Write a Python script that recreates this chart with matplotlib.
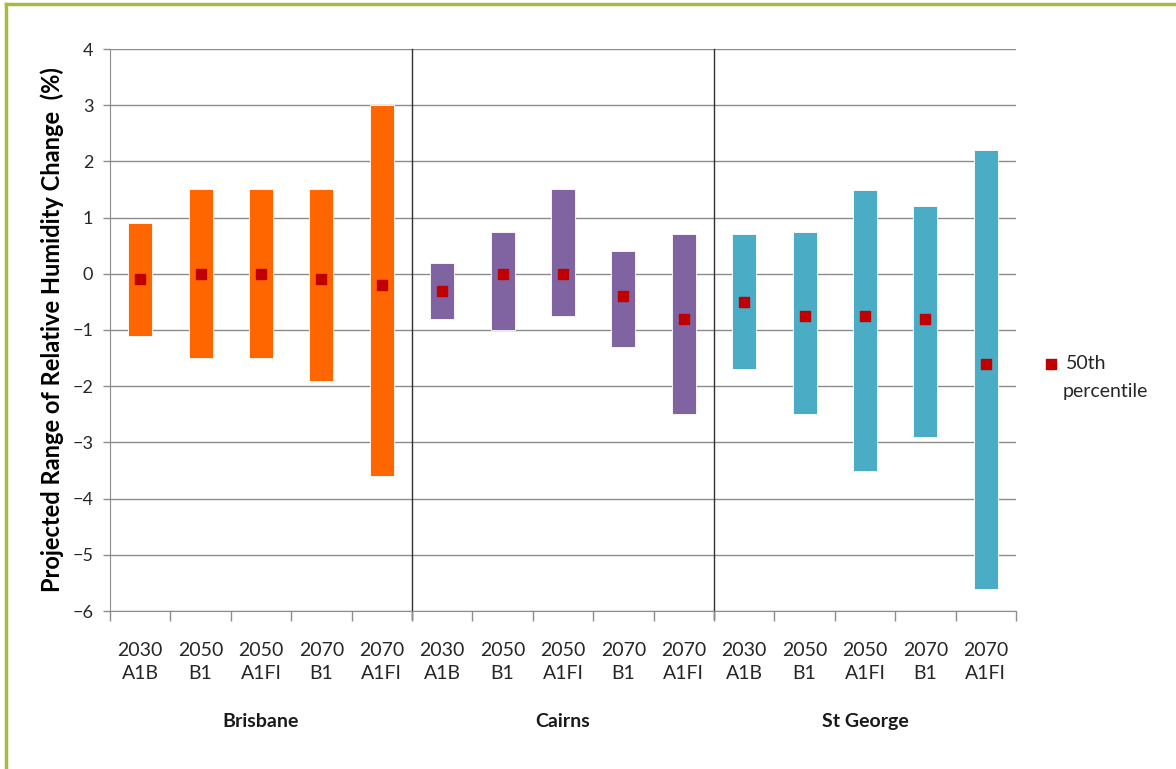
import matplotlib.pyplot as plt
from matplotlib.lines import Line2D
from matplotlib.transforms import blended_transform_factory

plt.rcParams['font.family'] = ['Lato', 'DejaVu Sans']

# Projected relative humidity change (%) per location and scenario
locations = ["Brisbane", "Cairns", "St George"]
scenarios = ["2030\nA1B", "2050\nB1", "2050\nA1FI", "2070\nB1", "2070\nA1FI"]
colors = ["#ff6600", "#8064a2", "#4bacc6"]

upper = [0.9, 1.5, 1.5, 1.5, 3.0,
         0.2, 0.75, 1.5, 0.4, 0.7,
         0.7, 0.75, 1.5, 1.2, 2.2]
lower = [-1.1, -1.5, -1.5, -1.9, -3.6,
         -0.8, -1.0, -0.75, -1.3, -2.5,
         -1.7, -2.5, -3.5, -2.9, -5.6]
median = [-0.1, 0.0, 0.0, -0.1, -0.2,
          -0.3, 0.0, 0.0, -0.4, -0.8,
          -0.5, -0.75, -0.75, -0.8, -1.6]

n = len(scenarios)
x = list(range(n * len(locations)))
bar_colors = [c for c in colors for _ in range(n)]

fig = plt.figure(figsize=(11.76, 7.69), dpi=100)
ax = fig.add_axes([110 / 1176, 1 - 611 / 769, 906 / 1176, 562 / 769])

grid_c = "#8c8c8c"
for v in range(-6, 5):
    ax.axhline(v, color=grid_c, lw=1, zorder=0)

heights = [u - l for u, l in zip(upper, lower)]
ax.bar(x, heights, bottom=lower, width=0.4, color=bar_colors,
       edgecolor="white", linewidth=0.6, zorder=2)
pts = ax.scatter(x, median, marker="s", s=62, color="#c00000", zorder=3,
                 label="50th")

# separators between locations
for i in range(1, len(locations)):
    ax.axvline(i * n - 0.5, ymin=-0.014, ymax=1, color="#303030", lw=1,
               clip_on=False, zorder=1)

ax.set_xlim(-0.5, len(x) - 0.5)
ax.set_ylim(-6, 4)
ax.set_yticks(range(-6, 5))
ax.set_xticks(x)
ax.set_xticklabels(scenarios * len(locations), fontsize=14, color="#262626",
                   linespacing=1.45)
ax.set_xticks([i - 0.5 for i in range(len(x) + 1)], minor=True)
ax.tick_params(axis="x", which="major", length=0, pad=22)
ax.tick_params(axis="x", which="minor", length=7, color=grid_c, width=1)
ax.tick_params(axis="y", length=5, color=grid_c, width=1, labelsize=13,
               labelcolor="#262626", pad=7)

for side in ["top", "right"]:
    ax.spines[side].set_visible(False)
ax.spines["left"].set_color(grid_c)
ax.spines["bottom"].set_color(grid_c)

ax.set_ylabel("Projected Range of Relative Humidity Change  (%)", fontsize=17,
              fontweight="bold", labelpad=6)

trans = blended_transform_factory(ax.transData, ax.transAxes)
for i, loc in enumerate(locations):
    ax.text(i * n + (n - 1) / 2, -0.196, loc, transform=trans, ha="center",
            va="center", fontsize=14, fontweight="bold", color="#1a1a1a")

# legend: marker beside the first line, second line underneath
fig.legend(handles=[pts], loc="center left",
           bbox_to_anchor=(1043 / 1176, 1 - 364 / 769), frameon=False,
           fontsize=14, handletextpad=0.4, handlelength=0.8, borderpad=0,
           borderaxespad=0, labelcolor="#262626")
fig.text(1063 / 1176, 1 - 392 / 769, "percentile", fontsize=14,
         color="#262626", va="center", ha="left")

# outer frame
border = "#a9bb3e"
fig.add_artist(Line2D([6 / 1176, 1], [1 - 4 / 769] * 2, color=border, lw=2.5))
fig.add_artist(Line2D([6 / 1176] * 2, [0, 1 - 4 / 769], color=border, lw=2.5))

fig.savefig("out.png", dpi=100)
